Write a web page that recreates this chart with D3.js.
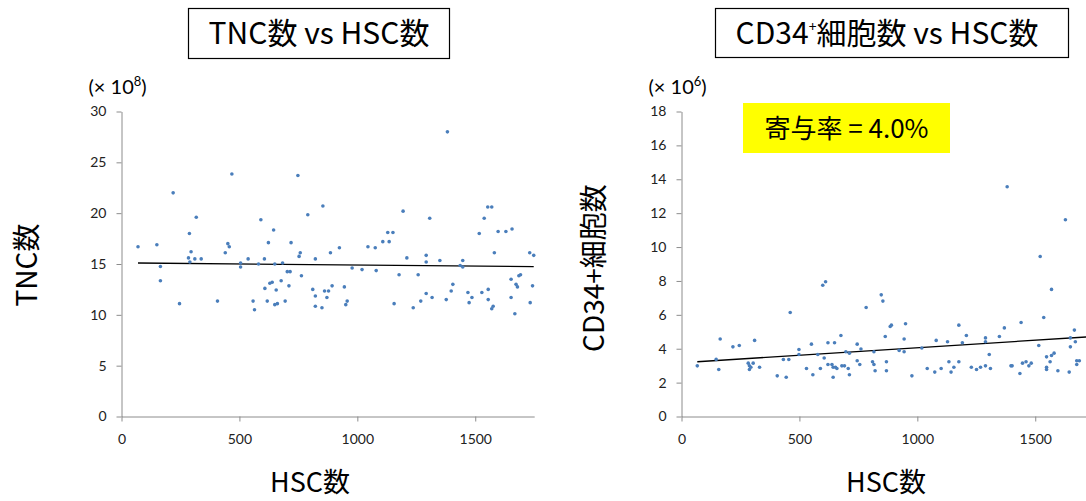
<!DOCTYPE html>
<html><head><meta charset="utf-8">
<script src="https://cdn.jsdelivr.net/npm/d3@7"></script>
<style>
html,body{margin:0;padding:0;background:#fff;}
svg{display:block;}
.tick text{font-family:Lato,"Noto Sans",sans-serif;font-size:14px;fill:#222;}
.tick line,.domain{stroke:#8c8c8c;}
.cjk{font-family:"Noto Sans CJK JP","Noto Sans",sans-serif;fill:#000;}
</style></head>
<body>
<svg id="c" width="1086" height="501"></svg>
<script>
// ---- Data ----
const xTicks = [0, 500, 1000, 1500];
const yTicksL = [0, 5, 10, 15, 20, 25, 30];
const yTicksR = [0, 2, 4, 6, 8, 10, 12, 14, 16, 18];

const hscL = [70,150,219,165,165,288,317,295,284,290,311,338,468,451,457,440,505,505,537,591,645,623,606,581,650,683,703,715,763,677,639,629,608,656,710,748,790,854,758,753,719,822,886,924,978,893,945,811,
1382,1194,1307,1045,1076,1108,1129,1151,1135,1210,1292,1292,1350,1436,1447,1447,1020,1080,1177,1258,1405,1517,1538,1553,1570,1597,1630,1656,1581,1731,1748,1652,1673,1679,1685,1692,1743,1555,
246,407,558,564,618,650,661,694,822,822,850,861,878,871,951,957,
1156,1237,1269,1292,1317,1377,1398,1469,1474,1486,1528,1555,1570,1576,1652,1668,1733];
const tnc = [16.7,16.9,22.0,14.75,13.35,18.0,19.6,16.2,15.6,15.2,15.5,15.5,23.85,17.0,16.7,16.1,15.1,14.7,15.5,19.35,18.35,17.1,15.5,15.0,15.0,15.1,14.25,14.25,13.85,13.35,13.2,13.1,12.6,12.45,12.85,23.7,19.85,20.7,16.1,15.75,17.1,15.5,16.1,16.6,14.6,12.85,12.75,12.5,
28.0,20.2,19.5,16.7,16.6,17.2,18.1,18.1,17.2,15.6,15.85,15.2,15.35,14.85,14.7,15.35,14.45,14.35,13.95,13.95,13.0,18.0,19.5,20.6,20.6,18.2,18.2,18.45,16.1,16.1,15.85,13.5,13.0,12.75,13.85,13.95,12.85,12.5,
11.1,11.35,11.35,10.5,11.35,11.0,11.1,11.35,11.85,10.85,10.7,12.35,12.35,11.7,11.0,11.35,
11.1,10.7,11.35,12.1,11.7,11.5,12.35,12.2,11.2,11.7,12.2,11.5,10.6,10.85,11.7,10.1,11.2];

const hscR = [67,147,158,164,218,245,283,288,288,294,304,310,331,406,432,455,444,461,498,498,530,551,557,578,589,605,621,621,638,643,643,649,653,659,676,680,691,697,707,712,712,745,745,756,761,783,810,816,816,821,
599,611,
847,854,864,869,869,885,890,923,944,944,950,977,1019,1042,1074,1080,1101,1128,1134,1143,1155,1176,1176,1191,1208,1229,1251,1268,1289,1289,1289,1305,1310,1348,1369,1397,1402,1435,1440,1446,1461,1473,1483,1515,1536,1548,1548,1548,1563,1569,1580,1569,1596,1644,1649,1649,1666,1670,1676,1676,1687,
1381,1628,1521];
const cd34 = [2.99,3.37,2.77,4.57,4.11,4.19,3.15,2.99,2.77,2.91,3.15,4.49,2.91,2.4,3.36,3.36,2.32,6.14,3.95,3.66,2.83,4.27,2.46,3.66,2.83,3.45,3.07,4.35,3.07,2.32,2.91,4.35,2.91,2.83,4.78,2.99,2.99,3.82,2.83,2.46,3.74,4.27,3.29,3.07,3.98,6.43,3.23,3.07,3.82,2.7,
7.75,7.95,
7.18,6.81,4.72,3.23,2.7,5.31,5.39,3.9,3.82,4.57,5.47,2.4,4.04,2.83,2.62,4.49,2.83,4.41,3.23,2.62,2.91,3.23,5.39,4.35,4.78,2.91,2.77,2.91,2.99,4.64,4.41,3.66,2.83,4.72,5.23,2.99,2.99,2.54,5.55,3.15,3.23,2.99,3.15,4.19,5.84,3.52,2.91,2.77,3.23,3.6,3.74,7.5,2.7,2.62,4.64,4.11,5.1,4.41,3.29,3.07,3.29,
13.56,11.61,9.44];

// trend lines (endpoints)
const trendHscL = [70, 1748], trendTnc = [15.1, 14.75];
const trendHscR = [67, 1748], trendCd34 = [3.23, 4.72];

const svg = d3.select("#c");

function panel(o) {
  const x = d3.scaleLinear().domain([0, 1750]).range([o.x0, o.x0 + 412.7]);
  const y = d3.scaleLinear().domain([0, o.ymax]).range([416.5, 111.5]);
  const g = svg.append("g");
  g.append("g").attr("transform", "translate(0,416.5)")
    .call(d3.axisBottom(x).tickValues(xTicks).tickSize(5).tickSizeOuter(0).tickPadding(13).tickFormat(d3.format("d")));
  g.append("g").attr("transform", `translate(${o.x0},0)`)
    .call(d3.axisLeft(y).tickValues(o.yTicks).tickSize(5).tickSizeOuter(0).tickPadding(10).tickFormat(d3.format("d")));
  g.selectAll(".domain").attr("stroke", "#8c8c8c");
  g.selectAll(".tick line").attr("stroke", "#8c8c8c");
  g.append("line")
    .attr("x1", x(o.tx[0])).attr("y1", y(o.ty[0]))
    .attr("x2", x(o.tx[1])).attr("y2", y(o.ty[1]))
    .attr("stroke", "#000").attr("stroke-width", 1.3);
  g.selectAll("circle.p").data(o.xs).join("circle")
    .attr("class", "p")
    .attr("cx", d => x(d)).attr("cy", (d, i) => y(o.ys[i]))
    .attr("r", 1.8).attr("fill", "#4a7ebb");
  // multiplier label
  const m = g.append("text").attr("class", "cjk").attr("x", o.x0 - 33).attr("y", 94)
    .style("font-family", "Lato, 'Noto Sans', sans-serif").style("font-size", "20px");
  m.append("tspan").text("(× 10");
  m.append("tspan").attr("dy", -8).style("font-size", "13px").text(o.exp);
  m.append("tspan").attr("dy", 8).text(")");
  return {x, y};
}

panel({x0: 121.5, ymax: 30, yTicks: yTicksL, xs: hscL, ys: tnc, tx: trendHscL, ty: trendTnc, exp: "8"});
panel({x0: 681.5, ymax: 18, yTicks: yTicksR, xs: hscR, ys: cd34, tx: trendHscR, ty: trendCd34, exp: "6"});

// Title boxes
svg.append("rect").attr("x", 188.5).attr("y", 8.5).attr("width", 261).attr("height", 50)
  .attr("fill", "#fff").attr("stroke", "#000").attr("stroke-width", 1.2);
svg.append("text").attr("class", "cjk").attr("x", 319).attr("y", 44).attr("text-anchor", "middle")
  .style("font-size", "30px").text("TNC数 vs HSC数");

svg.append("rect").attr("x", 715.5).attr("y", 8.5).attr("width", 353).attr("height", 49)
  .attr("fill", "#fff").attr("stroke", "#000").attr("stroke-width", 1.2);
const t2 = svg.append("text").attr("class", "cjk").attr("x", 887).attr("y", 44).attr("text-anchor", "middle")
  .style("font-size", "30px");
t2.append("tspan").text("CD34");
t2.append("tspan").attr("dy", -12).style("font-size", "14px").text("+");
t2.append("tspan").attr("dy", 12).text("細胞数 vs HSC数");

// yellow annotation
svg.append("rect").attr("x", 743).attr("y", 103).attr("width", 207).attr("height", 50).attr("fill", "#ffff00");
svg.append("text").attr("class", "cjk").attr("x", 846.5).attr("y", 138).attr("text-anchor", "middle")
  .style("font-size", "26px").text("寄与率 = 4.0%");

// axis titles
svg.append("text").attr("class", "cjk").attr("x", 310).attr("y", 492).attr("text-anchor", "middle")
  .style("font-size", "27px").text("HSC数");
svg.append("text").attr("class", "cjk").attr("x", 886).attr("y", 492).attr("text-anchor", "middle")
  .style("font-size", "27px").text("HSC数");
svg.append("text").attr("class", "cjk").attr("transform", "translate(37,265) rotate(-90)").attr("text-anchor", "middle")
  .style("font-size", "28px").text("TNC数");
svg.append("text").attr("class", "cjk").attr("transform", "translate(604,268) rotate(-90)").attr("text-anchor", "middle")
  .style("font-size", "28px").text("CD34+細胞数");
</script>
</body></html>
